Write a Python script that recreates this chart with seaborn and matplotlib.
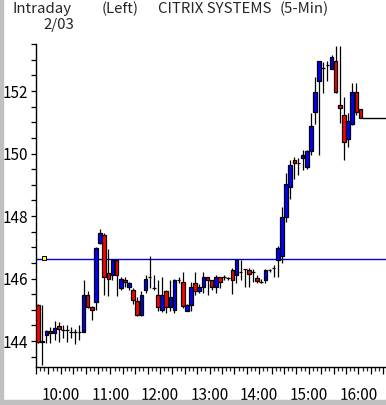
import numpy as np
import pandas as pd
import seaborn as sns
import matplotlib.pyplot as plt
from matplotlib.patches import Rectangle
from matplotlib.ticker import MultipleLocator, FixedLocator, FuncFormatter

# 5-min bars, 9:30 .. 16:00
opens = [145.15, 143.98, 144.19, 144.32, 144.25, 144.48, 144.35, 144.34, 144.30, 144.28,
         144.28, 144.30, 145.47, 145.10, 145.24, 147.13, 147.39, 146.17, 146.11, 146.61,
         145.69, 145.95, 145.74, 145.65, 145.28, 144.85, 145.63, 146.06, 145.70, 145.47,
         145.00, 145.60, 145.10, 145.00, 145.95, 145.88, 144.97, 145.15, 145.85, 145.61,
         145.74, 146.06, 145.95, 145.74, 146.06, 146.06, 146.02, 146.27, 146.11, 146.20,
         146.30, 146.29, 146.20, 146.03, 145.90, 145.95, 146.27, 146.33, 146.61, 146.73,
         147.98, 148.94, 149.81, 149.69, 149.85, 149.58, 150.09, 151.34, 152.33, 152.75,
         152.83, 152.72, 152.96, 151.57, 151.25, 150.46, 150.94, 151.96, 151.44]
highs = [145.20, 145.15, 144.35, 144.46, 144.64, 144.62, 144.51, 144.51, 144.45, 144.40,
         144.50, 145.95, 145.60, 145.12, 147.00, 147.58, 147.45, 146.95, 146.63, 146.63,
         146.05, 146.06, 145.90, 145.70, 145.42, 145.60, 146.10, 146.72, 146.11, 145.95,
         146.06, 145.65, 145.95, 145.98, 146.05, 146.20, 145.20, 145.90, 146.20, 145.82,
         146.20, 146.06, 145.95, 146.10, 146.06, 146.10, 146.05, 146.35, 146.61, 146.61,
         146.32, 146.33, 146.30, 146.10, 146.00, 146.32, 146.30, 146.45, 147.04, 148.30,
         149.37, 149.80, 149.90, 149.85, 150.10, 150.10, 151.29, 152.46, 152.96, 152.94,
         152.96, 153.15, 153.44, 153.44, 151.80, 151.30, 152.26, 152.26, 151.44]
lows = [143.95, 143.23, 143.94, 143.93, 144.03, 143.96, 144.10, 143.96, 144.10, 143.92,
        144.05, 144.28, 145.05, 144.67, 145.00, 147.10, 145.47, 145.45, 145.95, 145.45,
        145.65, 145.74, 145.63, 145.20, 144.81, 144.80, 145.55, 145.70, 145.63, 144.96,
        144.92, 144.90, 144.95, 144.90, 145.85, 145.05, 144.97, 144.97, 145.47, 145.55,
        145.55, 145.47, 145.65, 145.55, 145.70, 145.95, 145.95, 145.52, 145.87, 145.95,
        145.74, 145.74, 145.90, 145.85, 145.85, 145.85, 146.20, 146.05, 146.04, 146.50,
        147.80, 148.55, 149.20, 149.30, 149.47, 149.50, 149.95, 150.96, 149.95, 151.95,
        152.33, 152.70, 151.95, 150.97, 149.79, 150.20, 150.90, 151.25, 151.15]
closes = [143.98, 144.00, 144.33, 144.25, 144.41, 144.38, 144.35, 144.34, 144.30, 144.28,
          144.28, 145.47, 145.10, 145.00, 146.97, 147.45, 146.06, 145.98, 146.61, 146.11,
          146.00, 145.88, 145.85, 145.31, 144.85, 145.47, 146.00, 146.06, 145.70, 145.10,
          145.47, 145.10, 145.40, 145.95, 145.95, 145.12, 145.15, 145.72, 145.61, 145.74,
          146.06, 145.97, 145.74, 146.06, 145.88, 146.06, 146.02, 145.97, 146.59, 146.20,
          146.30, 146.16, 146.20, 145.92, 145.90, 146.27, 146.27, 146.33, 146.97, 147.96,
          149.02, 149.63, 149.71, 149.69, 149.95, 150.09, 150.88, 151.97, 152.96, 152.75,
          152.83, 153.10, 151.98, 151.47, 150.36, 151.05, 151.96, 151.34, 151.15]

prev_close = 146.62
last_price = 151.13
hour_labels = ["10:00", "11:00", "12:00", "13:00", "14:00", "15:00", "16:00"]

df = pd.DataFrame({"open": opens, "high": highs, "low": lows, "close": closes})
df["minute"] = np.arange(len(df)) * 5 + 2.5   # minutes after 9:30, bar centre
df["up"] = df["close"] >= df["open"]

sns.set_style("ticks")
plt.rcParams['font.family'] = ['Noto Sans CJK JP', 'DejaVu Sans']

fig = plt.figure(figsize=(3.86, 4.05), dpi=100)
fig.patch.set_facecolor("white")
ax = fig.add_axes([36 / 386, 38 / 405, 350 / 386, 322.8 / 405])
ax.set_facecolor("white")

ax.axhline(prev_close, color="#0000e0", lw=1.0, zorder=1)
ax.plot([9.7], [prev_close + 0.03], marker="s", ms=3.2, mfc="yellow", mec="black",
        mew=0.7, zorder=4)

# wicks then bodies
ax.vlines(df["minute"], df["low"], df["high"], color="black", lw=0.9, zorder=2)
colors = np.where(df["up"], "#0000ff", "#ff0000")
body_lo = df[["open", "close"]].min(axis=1)
body_h = (df["close"] - df["open"]).abs()
ax.bar(df["minute"], body_h, bottom=body_lo, width=4.4, color=colors,
       edgecolor="black", linewidth=0.9, zorder=3)

# last price line after the close
ax.hlines(last_price, df["minute"].iloc[-1] + 2.2, 424, color="black", lw=1.0, zorder=2)

ax.set_xlim(0, 423.4)
ax.set_ylim(143.17, 153.5)

for s in ["top", "right"]:
    ax.spines[s].set_visible(False)
for s in ["left", "bottom"]:
    ax.spines[s].set_linewidth(1.0)
    ax.spines[s].set_color("black")

ax.yaxis.set_major_locator(MultipleLocator(2))
ax.yaxis.set_minor_locator(MultipleLocator(0.5))
ax.yaxis.set_major_formatter(FuncFormatter(lambda v, p: f"{v:.0f}"))

ax.xaxis.set_major_locator(FixedLocator(np.arange(0, 424, 15)))
ax.xaxis.set_minor_locator(MultipleLocator(5))
hour_pos = {30 + 60 * i: lab for i, lab in enumerate(hour_labels)}
ax.xaxis.set_major_formatter(FuncFormatter(lambda v, p: hour_pos.get(int(round(v)), "")))

ax.tick_params(axis="y", which="both", direction="out", length=3.5, width=0.9,
               labelsize=11, pad=2, colors="black")
ax.tick_params(axis="x", which="major", direction="out", length=5, width=0.9,
               labelsize=11, pad=9.5, colors="black")
ax.tick_params(axis="x", which="minor", direction="out", length=3, width=0.9)

# header texts
fs = 10.8
fig.text(13 / 386, 1 - 2 / 405, "Intraday", fontsize=fs, ha="left", va="top")
fig.text(102 / 386, 1 - 2 / 405, "(Left)", fontsize=fs, ha="left", va="top")
fig.text(158 / 386, 1 - 2 / 405, "CITRIX SYSTEMS", fontsize=fs, ha="left", va="top")
fig.text(280 / 386, 1 - 2 / 405, "(5-Min)", fontsize=fs, ha="left", va="top")
fig.text(43 / 386, 1 - 18 / 405, "2/03", fontsize=fs, ha="left", va="top")

# grey window frame on left and bottom
fig.patches.append(Rectangle((0, 0), 3 / 386, 1, transform=fig.transFigure,
                             color="#c0c0c0", zorder=0))
fig.patches.append(Rectangle((0, 0), 1, 5 / 405, transform=fig.transFigure,
                             color="#c0c0c0", zorder=0))

fig.savefig("out.png", dpi=100)
